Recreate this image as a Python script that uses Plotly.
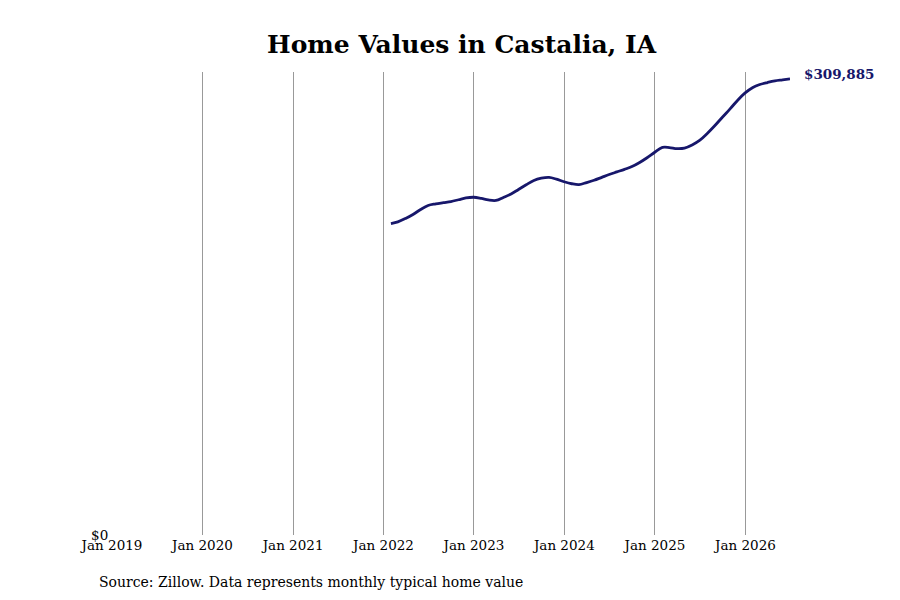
import pandas as pd
import plotly.graph_objects as go

title_text = "Home Values in Castalia, IA"
source_text = "Source: Zillow. Data represents monthly typical home value"

dates = pd.date_range("2022-01-31", "2026-06-30", freq="ME")
values = [
    211600, 212780, 215090, 217810, 221210, 223900, 225000, 225800, 226580, 227800,
    229030, 229500, 228690, 227670, 227330, 229370, 231740, 234800, 238000, 240920,
    242410, 242960, 241800, 240030, 238670, 238060, 239490, 241050, 243030, 244930,
    246690, 248460, 250360, 253150, 256340, 260080, 263350, 263280, 262530, 262870,
    265040, 268100, 272860, 278230, 283870, 289510, 295290, 300380, 304120, 306090,
    307450, 308540, 309220, 309885,
]
tick_vals = pd.date_range("2019-01-01", "2026-01-01", freq="YS")
tick_text = [d.strftime("Jan %Y") for d in tick_vals]

color = "#17176b"
font = "DejaVu Serif"

fig = go.Figure()
fig.add_trace(go.Scatter(
    x=dates, y=values, mode="lines",
    line=dict(color=color, width=2.8, shape="spline"),
    hoverinfo="skip", showlegend=False,
))
fig.add_annotation(
    x=dates[-1], y=values[-1], text=f"<b>${values[-1]:,}</b>",
    showarrow=False, xanchor="left", yanchor="middle", xshift=12, yshift=5,
    font=dict(family=font, size=13.5, color=color),
)
fig.add_annotation(
    x=0.0, y=-0.1015, xref="paper", yref="paper", text=source_text,
    showarrow=False, xanchor="left", yanchor="middle", xshift=-15,
    font=dict(family=font, size=14, color="black"),
)
fig.update_layout(
    width=900, height=600,
    margin=dict(l=104, r=118, t=64, b=73),
    paper_bgcolor="white", plot_bgcolor="white",
    title=dict(text=f"<b>{title_text}</b>", x=0.504, xanchor="center", y=0.94, yanchor="middle",
               font=dict(family=font, size=25, color="black")),
    font=dict(family=font, size=13.5, color="black"),
    xaxis=dict(
        type="date", range=["2019-01-01", "2026-06-30"],
        tickvals=tick_vals, ticktext=tick_text, showgrid=True,
        gridcolor="#999999", gridwidth=1, showline=False, zeroline=False,
        ticks="", tickfont=dict(family=font, size=13.5),
    ),
    yaxis=dict(
        range=[0, 314600], tickvals=[0], ticktext=["$0"], showgrid=False,
        zeroline=False, showline=True, linecolor="white", ticks="",
        tickfont=dict(family=font, size=13.5),
    ),
)
fig.write_html("out.html")
